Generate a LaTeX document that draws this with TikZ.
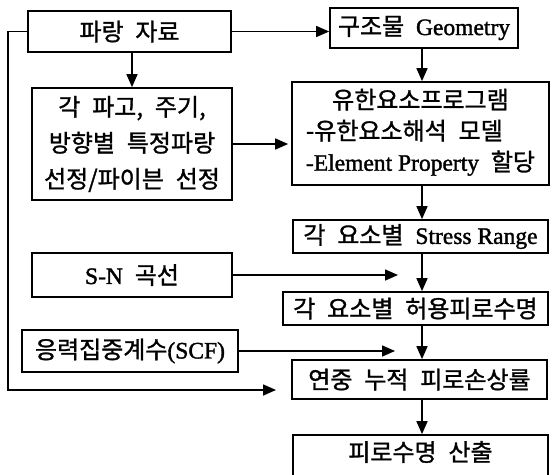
\documentclass[tikz,border=0pt]{standalone}
\usepackage{fontspec}
\setmainfont{Liberation Serif}
\newfontfamily\kr[WordSpace=2.2,RawFeature={embolden=1.2}]{Noto Sans CJK KR}
\newfontfamily\lat[Scale=0.98,RawFeature={embolden=1.5}]{Liberation Serif}
\usetikzlibrary{arrows.meta}
\begin{document}
\begin{tikzpicture}[x=1pt,y=-1pt,
  box/.style={draw, line width=1.7pt, inner sep=0pt, font=\kr\fontsize{24}{36}\selectfont, align=center},
  txt/.style={inner sep=0pt, font=\kr\fontsize{24}{36}\selectfont},
  arr/.style={line width=1.6pt, -{Triangle[length=13pt,width=11pt]}}]
\useasboundingbox (0,0) rectangle (553,474);
% boxes
\node[box, minimum width=203pt, minimum height=41pt] (wave) at (129.5,31.5) {파랑 자료};
\node[box, minimum width=188pt, minimum height=40pt] (geom) at (424,28) {구조물 {\lat Geometry}};
\node[box, minimum width=200pt, minimum height=112pt] (sel) at (132,144) {각 파고, 주기,\\방향별 특정파랑\\선정/파이븐 선정};
\node[box, minimum width=257pt, minimum height=103pt, font=\kr\fontsize{24}{31}\selectfont] (fem) at (420.5,133.5)
  {\begin{tabular}{@{}l@{}}\multicolumn{1}{c}{유한요소프로그램}\\-유한요소해석 모델\\{\lat -Element Property} 할당\end{tabular}};
\node[box, minimum width=255pt, minimum height=33pt] (stress) at (420.5,236.5) {각 요소별 {\lat Stress Range}};
\node[box, minimum width=200pt, minimum height=44pt] (sn) at (132,275) {{\lat S-N} 곡선};
\node[box, minimum width=265pt, minimum height=33pt] (allow) at (415.5,308.5) {각 요소별 허용피로수명};
\node[box, minimum width=216pt, minimum height=42pt] (scf) at (130,351) {응력집중계수{\lat (SCF)}};
\node[box, minimum width=255pt, minimum height=39pt] (dmg) at (419.5,379.5) {연중 누적 피로손상률};
\node[box, minimum width=255pt, minimum height=45pt] (life) at (420.5,457.5) {};
\node[txt] (lifet) at (420.5,452) {피로수명 산출};
% helper coordinates
\coordinate (col) at (422,0);
\coordinate (snend) at (398,273);
\coordinate (scfend) at (395,348);
\coordinate (fbc) at (8,390);
\coordinate (fbend) at (276,390);
% connectors
\draw[arr] (wave.east) -- (wave.east -| geom.west);
\draw[arr] (sel.north |- wave.south) -- (sel.north);
\draw[arr, shorten >=3pt] (sel.east) -- (sel.east -| fem.west);
\draw[arr] (geom.south -| col) -- (fem.north -| col);
\draw[arr] (fem.south -| col) -- (stress.north -| col);
\draw[arr] (stress.south -| col) -- (allow.north -| col);
\draw[arr] (allow.south -| col) -- (dmg.north -| col);
\draw[arr] (dmg.south -| col) -- (life.north -| col);
\draw[arr] (sn.east) -- (sn.east -| snend);
\draw[arr] (scf.east) -- (scf.east -| scfend);
\draw[arr] (wave.west) -- (wave.west -| fbc) -- (fbc) -- (fbend);
\end{tikzpicture}
\end{document}
